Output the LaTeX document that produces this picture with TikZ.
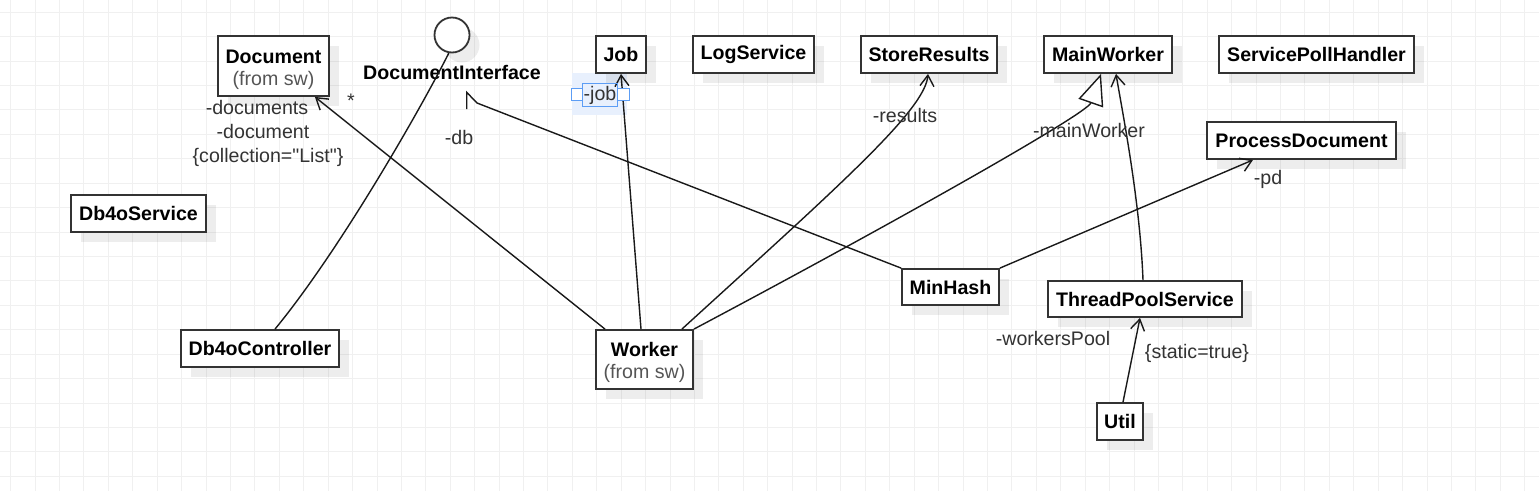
\documentclass[tikz,border=0pt]{standalone}
\usepackage{fontspec}
\setmainfont{Liberation Sans}[Ligatures=TeXOff]
\usetikzlibrary{arrows.meta,shadows,calc}
\definecolor{gridc}{HTML}{F0F0F0}
\definecolor{boxc}{HTML}{333333}
\definecolor{labc}{HTML}{333333}
\definecolor{fromc}{HTML}{555555}
\definecolor{selblue}{HTML}{5C9DF5}
\definecolor{selfill}{HTML}{E8F0FD}
\begin{document}
\begin{tikzpicture}[x=1pt,y=-1pt,
  classbox/.style={draw=boxc, line width=1.8pt, fill=white, inner sep=0pt,
    font=\fontsize{19.6}{22}\selectfont\bfseries, text=black,
    drop shadow={shadow xshift=10pt, shadow yshift=-10pt, fill=black, opacity=0.07}},
  lab/.style={font=\fontsize{19.6}{22}\selectfont, text=labc, inner sep=0pt},
  conn/.style={draw=black!90, line width=1.4pt},
  openarrow/.style={-{Straight Barb[length=11pt,width=14pt]}}
]
\useasboundingbox (0,0) rectangle (1539,491);
\fill[white] (0,0) rectangle (1539,491);
% grid
\foreach \i in {0,...,62} \draw[gridc, line width=1pt] ({10.7+24.42*\i},0) -- ({10.7+24.42*\i},491);
\foreach \j in {0,...,19} \draw[gridc, line width=1pt] (0,{12.3+24.42*\j}) -- (1539,{12.3+24.42*\j});
% selection highlight
\fill[selfill] (571.7,72.7) rectangle (626.7,115);

% classes
\node[classbox, minimum width=111pt, minimum height=60pt, align=center] (document) at (273.5,66) {\rule{0pt}{20.5pt}Document\\{\mdseries\color{fromc}(from sw)}};
\node[classbox, minimum width=50pt, minimum height=37pt] (job) at (621,54.5) {Job};
\node[classbox, minimum width=121pt, minimum height=37pt] (logservice) at (753.5,54.5) {LogService};
\node[classbox, minimum width=136pt, minimum height=37pt] (storeres) at (929,54.5) {StoreResults};
\node[classbox, minimum width=128pt, minimum height=37pt] (mainworker) at (1108,54.5) {MainWorker};
\node[classbox, minimum width=195pt, minimum height=37pt] (servpoll) at (1316.5,54.5) {ServicePollHandler};
\node[classbox, minimum width=189pt, minimum height=37pt] (procdoc) at (1301.5,140.5) {ProcessDocument};
\node[classbox, minimum width=135pt, minimum height=37pt] (db4oserv) at (138.5,213.5) {Db4oService};
\node[classbox, minimum width=158pt, minimum height=37pt] (db4oc) at (260,348.5) {Db4oController};
\node[classbox, minimum width=97pt, minimum height=59pt, align=center] (worker) at (644.5,359.5) {\rule{0pt}{20.5pt}Worker\\{\mdseries\color{fromc}(from sw)}};
\node[classbox, minimum width=97pt, minimum height=36pt] (minhash) at (950.5,287) {MinHash};
\node[classbox, minimum width=194pt, minimum height=36pt] (tps) at (1145,299) {ThreadPoolService};
\node[classbox, minimum width=46pt, minimum height=37pt] (util) at (1120,421.5) {Util};
\node[classbox, circle, minimum size=35pt] (circ) at (452,35) {};
\node[font=\fontsize{19.6}{22}\selectfont\bfseries, inner sep=0pt] (di) at (452,72) {DocumentInterface};

% helper coordinates for the DocumentInterface arrow head
\coordinate (mhA) at (477,103);
\coordinate (mhT) at (466.7,92.3);
\coordinate (mhB) at (466.7,109);

% connectors
\draw[conn] ([xshift=15pt]db4oc.north) .. controls (340,250) and (420,110) .. (circ.-100);
\draw[conn, openarrow] ([xshift=-39.5pt]worker.north) -- ([xshift=-15pt]document.south east);
\draw[conn, openarrow] ([xshift=-3.5pt]worker.north) -- (job.south);
\draw[conn, openarrow] ([xshift=-12pt]worker.north east) .. controls (840,185) and (925,110) .. ([xshift=-1pt]storeres.south);
\draw[conn, -{Triangle[fill=white,length=31pt,width=26pt]}] (worker.north east) .. controls (890,225) and (1087,114) .. ([xshift=-7pt]mainworker.south);
\draw[conn] (minhash.north west) -- (mhA) -- (mhT) -- (mhB);
\draw[conn, openarrow] (minhash.north east) -- ([xshift=-48.5pt]procdoc.south);
\draw[conn, openarrow] ([xshift=-2pt]tps.north) .. controls (1140,200) and (1122,110) .. ([xshift=8pt]mainworker.south);
\draw[conn, openarrow] ([xshift=3pt]util.north) -- ([xshift=-5pt]tps.south);

% labels
\node[lab] (l1) at (257,107) {-documents};
\node[lab] (l2) at (263,131) {-document};
\node[lab] (l3) at (268,157) {\{collection="List"\}};
\node[lab] (l4) at (351,101) {*};
\node[lab] (l5) at (459,137) {-db};
\node[lab] (l7) at (905,115) {-results};
\node[lab] (l8) at (1089,130) {-mainWorker};
\node[lab] (l9) at (1268,179) {-pd};
\node[lab] (l10) at (1053,338) {-workersPool};
\node[lab] (l11) at (1197,353) {\{static=true\}};

% selection handles around -job
\draw[selblue, line width=1pt] (582.7,83.3) rectangle (617.3,106);
\draw[selblue, line width=1pt, fill=white] (571,88.3) rectangle (582.7,100);
\draw[selblue, line width=1pt, fill=white] (617.3,88.3) rectangle (629,100);
\node[lab] (l6) at (600,95) {-job};
\end{tikzpicture}
\end{document}
